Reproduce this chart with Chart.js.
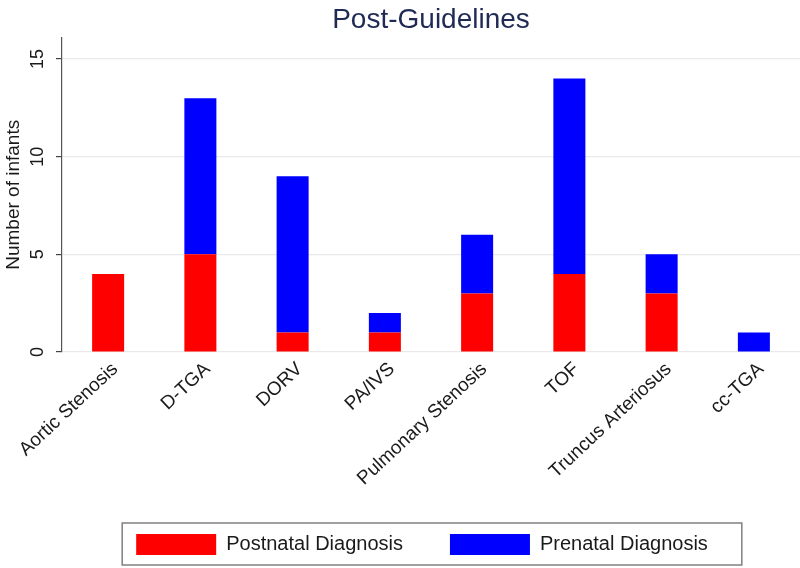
<!DOCTYPE html>
<html>
<head>
<meta charset="utf-8">
<script src="https://cdn.jsdelivr.net/npm/chart.js@4.4.1/dist/chart.umd.min.js"></script>
<style>
  html, body { margin: 0; padding: 0; background: #ffffff; }
  #wrap { width: 800px; height: 568px; }
</style>
</head>
<body>
<div id="wrap"><canvas id="c" width="800" height="568"></canvas></div>
<script>
const categories = ["Aortic Stenosis", "D-TGA", "DORV", "PA/IVS", "Pulmonary Stenosis", "TOF", "Truncus Arteriosus", "cc-TGA"];
const postnatal = [4, 5, 1, 1, 3, 4, 3, 0];
const prenatal = [0, 8, 8, 1, 3, 10, 2, 1];
const yTicks = [0, 5, 10, 15];
const seriesNames = ["Postnatal Diagnosis", "Prenatal Diagnosis"];
const chartTitle = "Post-Guidelines";
const yTitle = "Number of infants";

const FONT = "'Liberation Sans', Arial, Helvetica, sans-serif";

const legendFrame = {
  id: 'legendFrame',
  afterLayout(chart) {
    const lg = chart.legend;
    if (lg) { lg.left -= 9; lg.right -= 9; }
  },
  afterDraw(chart) {
    const lg = chart.legend;
    if (!lg || !lg.legendHitBoxes || !lg.legendHitBoxes.length) return;
    const hb = lg.legendHitBoxes;
    const first = hb[0], last = hb[hb.length - 1];
    const left = first.left - 14;
    const right = last.left + last.width + 34;
    const top = first.top - 11;
    const bottom = first.top + first.height + 10;
    const ctx = chart.ctx;
    ctx.save();
    ctx.strokeStyle = '#808080';
    ctx.lineWidth = 1.5;
    ctx.strokeRect(left, top, right - left, bottom - top);
    ctx.restore();
  }
};

new Chart(document.getElementById('c'), {
  type: 'bar',
  data: {
    labels: categories,
    datasets: [
      { label: seriesNames[0], data: postnatal, backgroundColor: '#ff0000', borderWidth: 0 },
      { label: seriesNames[1], data: prenatal, backgroundColor: '#0000ff', borderWidth: 0 }
    ]
  },
  options: {
    responsive: false,
    animation: false,
    layout: { padding: { top: 0, right: 0, bottom: 3, left: 0 } },
    datasets: { bar: { barPercentage: 0.347, categoryPercentage: 1.0 } },
    plugins: {
      title: {
        display: true,
        text: chartTitle,
        fullSize: false,
        color: '#1f2a55',
        font: { family: FONT, size: 28, weight: 'normal' },
        padding: { top: 3, bottom: 1 }
      },
      legend: {
        display: true,
        position: 'bottom',
        fullSize: false,
        labels: {
          boxWidth: 80,
          boxHeight: 21,
          padding: 47,
          color: '#1a1a1a',
          font: { family: FONT, size: 20 }
        }
      },
      tooltip: { enabled: false }
    },
    scales: {
      x: {
        stacked: true,
        offset: true,
        grid: { display: false, drawTicks: false },
        border: { display: false },
        ticks: {
          autoSkip: false,
          minRotation: 43,
          maxRotation: 43,
          padding: 6,
          labelOffset: 7,
          color: '#1a1a1a',
          font: { family: FONT, size: 19 }
        },
        afterFit(scale) { scale.height = 135; }
      },
      y: {
        stacked: true,
        min: 0,
        max: 16.1,
        afterBuildTicks(scale) { scale.ticks = yTicks.map(v => ({ value: v })); },
        grid: { color: '#e9e9e9', lineWidth: 1.2, tickColor: '#444444', tickLength: 6, drawTicks: true },
        border: { display: true, color: '#555555', width: 1.2 },
        ticks: {
          minRotation: 90,
          maxRotation: 90,
          crossAlign: 'center',
          padding: 8,
          color: '#1a1a1a',
          font: { family: FONT, size: 18 }
        },
        title: {
          display: true,
          text: yTitle,
          color: '#1a1a1a',
          font: { family: FONT, size: 19 },
          padding: { top: 2, bottom: 0 }
        },
        afterFit(scale) { scale.width = 62; }
      }
    }
  },
  plugins: [legendFrame]
});
</script>
</body>
</html>
